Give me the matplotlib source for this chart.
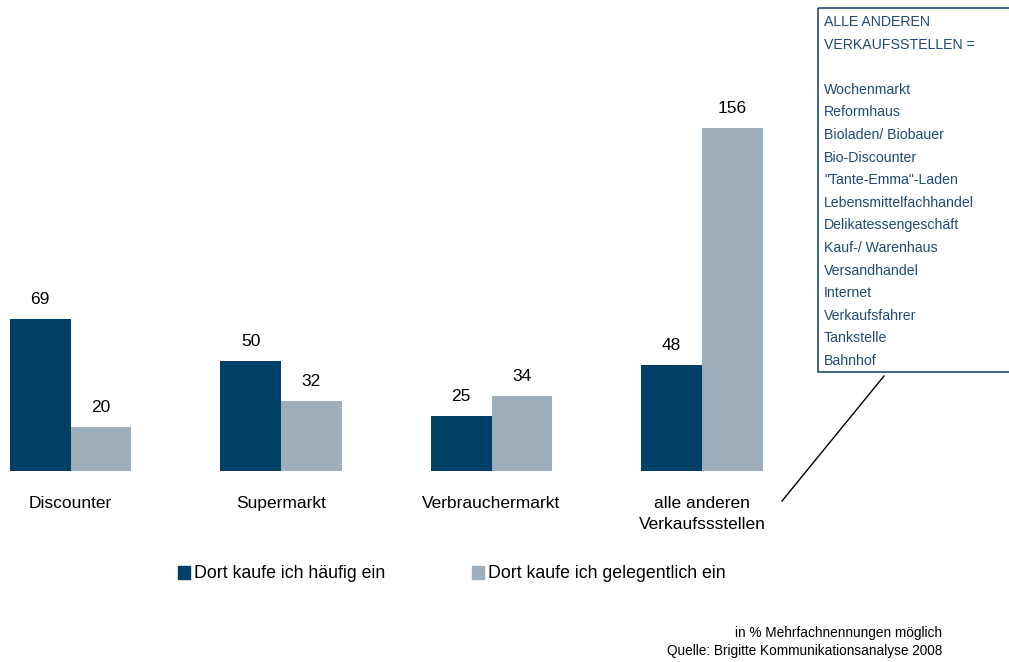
import matplotlib.pyplot as plt
from matplotlib.patches import Rectangle
import numpy as np

plt.rcParams['font.family'] = ['Liberation Sans', 'DejaVu Sans']

categories = ["Discounter", "Supermarkt", "Verbrauchermarkt", "alle anderen\nVerkaufssstellen"]
haeufig = [69, 50, 25, 48]
gelegentlich = [20, 32, 34, 156]
series_names = ["Dort kaufe ich häufig ein", "Dort kaufe ich gelegentlich ein"]
box_lines = ["ALLE ANDEREN", "VERKAUFSSTELLEN =", "",
             "Wochenmarkt", "Reformhaus", "Bioladen/ Biobauer", "Bio-Discounter",
             "\"Tante-Emma\"-Laden", "Lebensmittelfachhandel", "Delikatessengeschäft",
             "Kauf-/ Warenhaus", "Versandhandel", "Internet", "Verkaufsfahrer",
             "Tankstelle", "Bahnhof"]

dark = "#003f66"
light = "#9eadba"
boxblue = "#1f4a78"

W, H = 1009, 662
fig = plt.figure(figsize=(W / 100, H / 100), dpi=100)

# main bar axes, placed in pixel terms
ax = fig.add_axes([0, (H - 471) / H, 842 / W, 371 / H])
x = np.arange(len(categories))
w = 0.288
ax.bar(x - w / 2, haeufig, w, color=dark, label=series_names[0])
ax.bar(x + w / 2, gelegentlich, w, color=light, label=series_names[1])
ax.set_xlim(-0.335, 3.665)
ax.set_ylim(0, 371 / 2.2)
ax.axis("off")

for i in range(len(categories)):
    ax.text(x[i] - w / 2, haeufig[i] + 5.5, str(haeufig[i]), ha="center", va="bottom", fontsize=12.5)
    ax.text(x[i] + w / 2, gelegentlich[i] + 5.5, str(gelegentlich[i]), ha="center", va="bottom", fontsize=12.5)
    ax.text(x[i], -11.5, categories[i], ha="center", va="top", fontsize=12.5, linespacing=1.45)

# overlay in pixel coordinates for box, line, legend, notes
ov = fig.add_axes([0, 0, 1, 1])
ov.set_xlim(0, W)
ov.set_ylim(H, 0)
ov.axis("off")

ov.add_patch(Rectangle((818, 8), 200, 364, fill=False, edgecolor=boxblue, lw=1.2, clip_on=False))
for k, line in enumerate(box_lines):
    ov.text(824, 22 + k * 22.6, line, color=boxblue, fontsize=10.2, va="center", ha="left")
ov.plot([884, 782], [376, 501], color="black", lw=1)

# legend
ov.add_patch(Rectangle((178, 566), 12, 13, color=dark))
ov.text(194, 573, series_names[0], fontsize=12.8, va="center")
ov.add_patch(Rectangle((472, 566), 12, 13, color=light))
ov.text(488, 573, series_names[1], fontsize=12.8, va="center")

ov.text(942, 633, "in % Mehrfachnennungen möglich", fontsize=9.8, ha="right", va="center")
ov.text(942, 651, "Quelle: Brigitte Kommunikationsanalyse 2008", fontsize=9.8, ha="right", va="center")

fig.savefig("out.png", dpi=100)
